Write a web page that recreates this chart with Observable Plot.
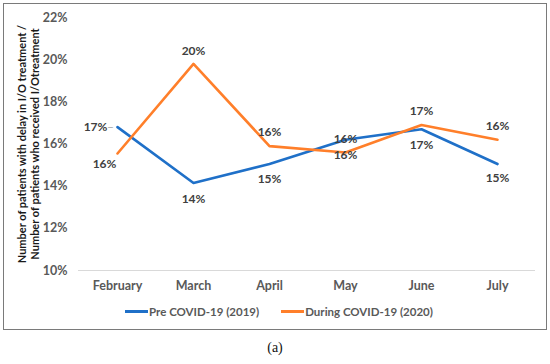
<!DOCTYPE html>
<html>
<head>
<meta charset="utf-8">
<script src="https://cdn.jsdelivr.net/npm/d3@7"></script>
<script src="https://cdn.jsdelivr.net/npm/@observablehq/plot@0.6"></script>
<style>
  body { margin: 0; background: #fff; width: 550px; height: 364px; position: relative; overflow: hidden; font-family: Lato, "Open Sans", sans-serif; }
  #frame { position: absolute; left: 3px; top: 3px; width: 542px; height: 325px; border: 1.5px solid #7a7a7a; }
  #chart { position: absolute; left: 0; top: 0; }
  #legend { position: absolute; left: 4px; width: 550px; top: 305px; display: flex; justify-content: center; gap: 22px; font-size: 11.5px; font-weight: 700; color: #595959; }
  .item { display: flex; align-items: center; }
  .sw { width: 23px; height: 3px; margin-right: 1px; }
  #caption { position: absolute; left: 0; width: 550px; top: 340px; text-align: center; font-family: "Liberation Serif", "DejaVu Serif", serif; font-size: 14px; color: #111; }
</style>
</head>
<body>
<div id="frame"></div>
<div id="chart"></div>
<div id="legend"></div>
<div id="caption">(a)</div>
<script>
const months = ["February", "March", "April", "May", "June", "July"];
const seriesNames = ["Pre COVID-19 (2019)", "During COVID-19 (2020)"];
const pre2019 = [16.8, 14.15, 15.05, 16.2, 16.7, 15.05];
const during2020 = [15.55, 19.8, 15.9, 15.6, 16.9, 16.2];
const yTicks = [10, 12, 14, 16, 18, 20, 22];
const yTitle1 = "Number of patients with delay in I/O treatment /";
const yTitle2 = "Number of patients who received I/Otreatment";

const colors = ["#1F70C8", "#FF7F2A"];

const rows = [];
months.forEach((m, i) => {
  rows.push({month: m, value: pre2019[i], series: seriesNames[0], idx: i});
  rows.push({month: m, value: during2020[i], series: seriesNames[1], idx: i});
});

// label placement (layout only)
const labelOffset = {
  [seriesNames[0]]: [[-22, 0], [0, 16], [0, 15], [0, -1], [0, 16], [0, 14]],
  [seriesNames[1]]: [[-13, 11], [0, -13], [0, -14], [0, 3], [0, -14], [0, -14]]
};
const labelMarks = rows.map(r => {
  const [dx, dy] = labelOffset[r.series][r.idx];
  return Plot.text([r], {
    x: "month", y: "value", text: d => Math.round(d.value) + "%",
    dx, dy, fill: "#404040", fontSize: 12, fontWeight: 700
  });
});

const plot = Plot.plot({
  width: 550,
  height: 300,
  marginTop: 17,
  marginBottom: 30,
  marginLeft: 78,
  marginRight: 15,
  style: {fontFamily: "Lato, 'Open Sans', sans-serif", background: "transparent", overflow: "visible"},
  x: {type: "point", domain: months, padding: 0.5, label: null},
  y: {domain: [10, 22], ticks: yTicks, label: null},
  color: {domain: seriesNames, range: colors},
  marks: [
    Plot.ruleY([10], {stroke: "#d9d9d9", strokeWidth: 1.2}),
    Plot.axisY({ticks: yTicks, tickSize: 0, tickPadding: 11, tickFormat: d => d + "%", label: null, fill: "#595959", fontSize: 12.5, fontWeight: 700}),
    Plot.axisX({tickSize: 0, tickPadding: 11, label: null, fill: "#595959", fontSize: 12.5, fontWeight: 700}),
    Plot.line(rows, {x: "month", y: "value", z: "series", stroke: "series", strokeWidth: 2.6}),
    Plot.text([rows[0]], {x: "month", y: "value", text: () => "–", dx: -7, fill: "#a6a6a6", fontSize: 12}),
    ...labelMarks,
    Plot.text([yTitle1], {frameAnchor: "left", textAnchor: "middle", dx: -56, rotate: -90, fontSize: 11, fontWeight: 700, fill: "#1a1a1a"}),
    Plot.text([yTitle2], {frameAnchor: "left", textAnchor: "middle", dx: -43, rotate: -90, fontSize: 11, fontWeight: 700, fill: "#1a1a1a"})
  ]
});
document.getElementById("chart").appendChild(plot);

const legend = document.getElementById("legend");
seriesNames.forEach((name, i) => {
  const item = document.createElement("div");
  item.className = "item";
  const sw = document.createElement("div");
  sw.className = "sw";
  sw.style.background = colors[i];
  const t = document.createElement("span");
  t.textContent = name;
  item.appendChild(sw);
  item.appendChild(t);
  legend.appendChild(item);
});
</script>
</body>
</html>
